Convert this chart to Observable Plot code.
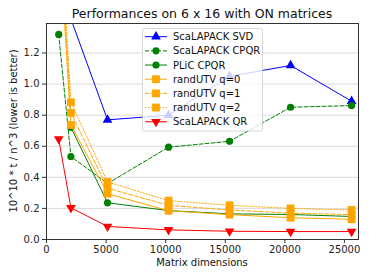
<!DOCTYPE html>
<html><head><meta charset="utf-8">
<script src="https://cdn.jsdelivr.net/npm/d3@7"></script>
<script src="https://cdn.jsdelivr.net/npm/@observablehq/plot@0.6"></script>
<style>body{margin:0;background:#fff} svg{font-family:"DejaVu Sans",sans-serif}</style>
</head><body><div id="chart"></div>
<script>
const dims = [1024, 2048, 5120, 10240, 15360, 20480, 25600];
const scalapackSVD  = [null, 1.42, 0.77, 0.80, 1.05, 1.12, 0.89];
const scalapackCPQR = [1.32, 0.534, 0.36, 0.594, 0.632, 0.851, 0.862];
const plicCPQR      = [null, 0.722, 0.236, 0.186, 0.165, 0.161, 0.148];
const randUTVq0     = [2.0, 0.737, 0.295, 0.185, 0.16, 0.14, 0.13];
const randUTVq1     = [2.1, 0.815, 0.33, 0.22, 0.19, 0.17, 0.16];
const randUTVq2     = [2.2, 0.883, 0.37, 0.25, 0.22, 0.20, 0.19];
const scalapackQR   = [0.647, 0.204, 0.084, 0.062, 0.053, 0.051, 0.051];
const yTicks = [0, 0.2, 0.4, 0.6, 0.8, 1.0, 1.2];
const xTicks = [0, 5000, 10000, 15000, 20000, 25000];
const title = "Performances on 6 x 16 with ON matrices";
const xLabel = "Matrix dimensions";
const yLabel = "10^10 * t / n^3 (lower is better)";

const triangleDown = {
  draw(context, size) {
    const y = -Math.sqrt(size / (Math.sqrt(3) * 3));
    context.moveTo(0, -2 * y);
    context.lineTo(-Math.sqrt(3) * y, y);
    context.lineTo(Math.sqrt(3) * y, y);
    context.closePath();
  }
};

const series = [
  {name: "ScaLAPACK SVD", values: scalapackSVD, color: "#0000ff", dash: null, symbol: "triangle", r: 3.6},
  {name: "ScaLAPACK CPQR", values: scalapackCPQR, color: "#008000", dash: "4,2", symbol: "circle", r: 3.6},
  {name: "PLiC CPQR", values: plicCPQR, color: "#008000", dash: null, symbol: "circle", r: 3.6},
  {name: "randUTV q=0", values: randUTVq0, color: "#ffa500", dash: null, symbol: "square", r: 4.4},
  {name: "randUTV q=1", values: randUTVq1, color: "#ffa500", dash: "4,2", symbol: "square", r: 4.4},
  {name: "randUTV q=2", values: randUTVq2, color: "#ffa500", dash: "1.2,1.8", symbol: "square", r: 4.4},
  {name: "ScaLAPACK QR", values: scalapackQR, color: "#ff0000", dash: null, symbol: triangleDown, r: 3.6}
];

const marks = [
  Plot.gridY(yTicks, {stroke: "#b0b0b0", strokeOpacity: 0.6, strokeWidth: 0.8}),
];
for (const s of series) {
  const rows = dims.map((d, i) => ({x: d, y: s.values[i]})).filter(r => r.y != null);
  marks.push(Plot.line(rows, {x: "x", y: "y", stroke: s.color, strokeWidth: 1, strokeDasharray: s.dash, clip: true}));
  marks.push(Plot.dot(rows, {x: "x", y: "y", fill: s.color, stroke: "none", symbol: () => s.symbol, r: s.r, clip: true}));
}
marks.push(Plot.frame({stroke: "#333", strokeWidth: 1}));
marks.push(Plot.axisY(yTicks, {tickFormat: d3.format(".1f"), tickSize: 4, tickPadding: 3, fontSize: 10, label: null, stroke: "#333"}));
marks.push(Plot.axisX(xTicks, {tickFormat: d => String(d), tickSize: 4, tickPadding: 2, fontSize: 10, label: null, stroke: "#333"}));

const chart = Plot.plot({
  width: 374, height: 280,
  marginLeft: 46, marginRight: 16, marginTop: 23, marginBottom: 41,
  style: {fontFamily: "DejaVu Sans, sans-serif", color: "#222", background: "#fff"},
  x: {domain: [0, 26180]},
  y: {domain: [0, 1.39]},
  marks
});

const svg = d3.select(chart);
svg.append("text").attr("x", 202).attr("y", 18).attr("text-anchor", "middle")
  .attr("font-size", 12.5).attr("fill", "#111").text(title);
svg.append("text").attr("x", 202).attr("y", 266).attr("text-anchor", "middle")
  .attr("font-size", 10).attr("fill", "#111").text(xLabel);
svg.append("text").attr("transform", "translate(17,131) rotate(-90)").attr("text-anchor", "middle")
  .attr("font-size", 10).attr("fill", "#111").text(yLabel);

const lg = svg.append("g");
lg.append("rect").attr("x", 142.5).attr("y", 28.5).attr("width", 120).attr("height", 102.5)
  .attr("rx", 2).attr("fill", "#fff").attr("fill-opacity", 0.8).attr("stroke", "#ccc").attr("stroke-width", 0.8);
series.forEach((s, i) => {
  const cy = 36.7 + i * 14.17;
  lg.append("line").attr("x1", 145).attr("x2", 167).attr("y1", cy).attr("y2", cy)
    .attr("stroke", s.color).attr("stroke-width", 1).attr("stroke-dasharray", s.dash);
  const sym = typeof s.symbol === "string" ? {triangle: d3.symbolTriangle, circle: d3.symbolCircle, square: d3.symbolSquare}[s.symbol] : s.symbol;
  lg.append("path").attr("transform", `translate(156,${cy})`)
    .attr("d", d3.symbol(sym, Math.PI * s.r * s.r)()).attr("fill", s.color);
  lg.append("text").attr("x", 173).attr("y", cy).attr("dy", "0.35em").attr("text-anchor", "start")
    .attr("font-size", 10).attr("fill", "#111").text(s.name);
});

document.getElementById("chart").appendChild(chart);
</script></body></html>
